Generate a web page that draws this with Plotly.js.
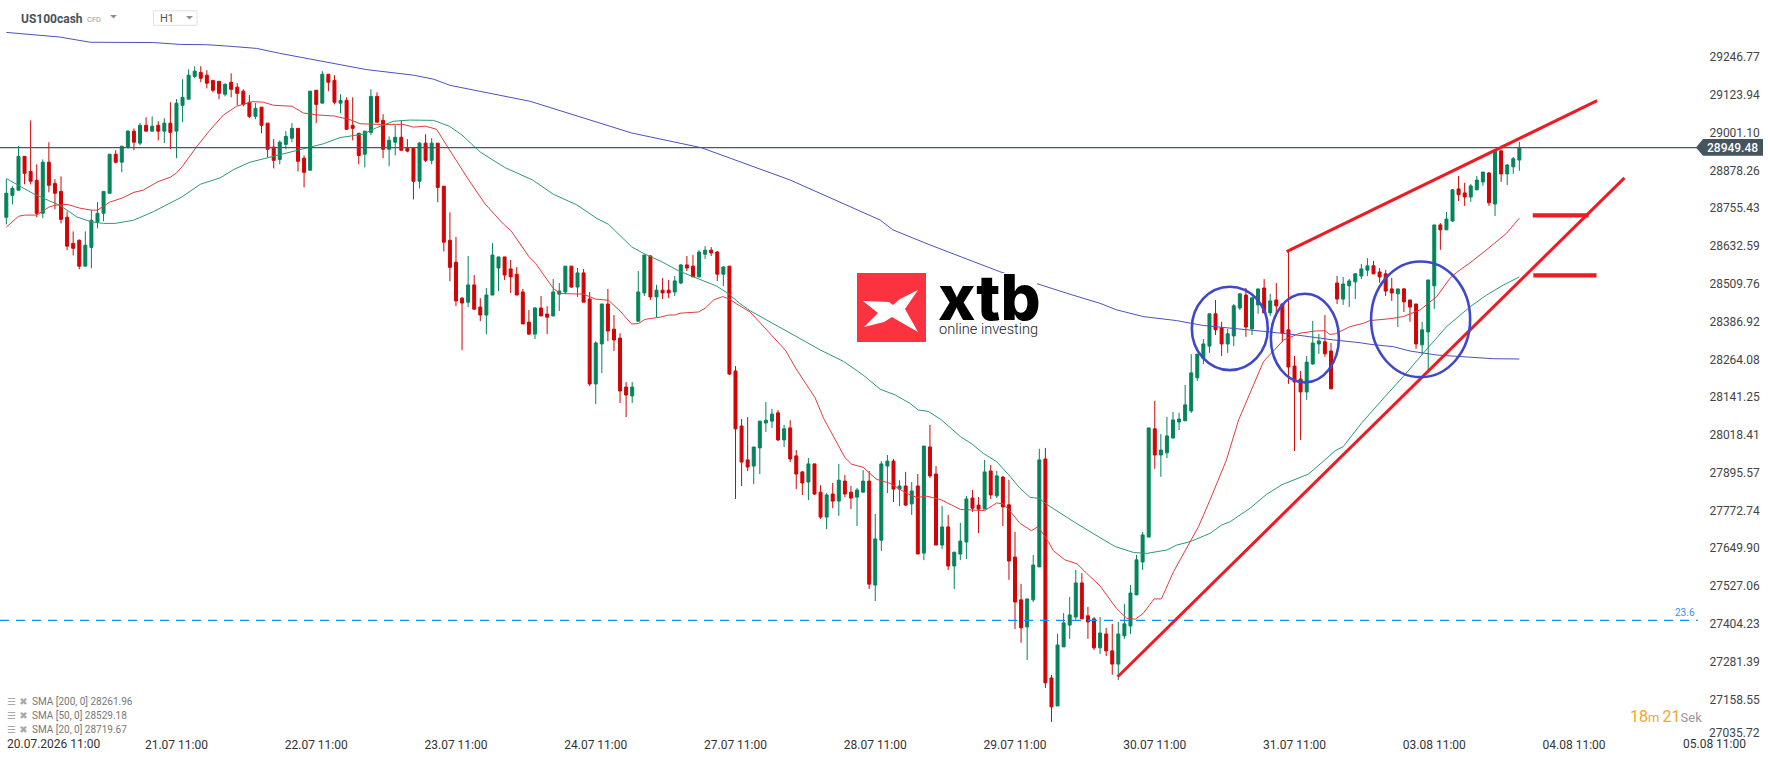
<!DOCTYPE html>
<html>
<head>
<meta charset="utf-8">
<script src="https://cdn.plot.ly/plotly-3.0.1.min.js"></script>
<style>html,body{margin:0;padding:0;background:#fff;overflow:hidden}</style>
</head>
<body>
<div id="chart"></div>
<script>
let opens = [
28723,28794,28811,28921,28872,28843,28736,28902,28833,28807,
28723,28638,28648,28564,28625,28707,28736,28801,28928,28902,
28949,29003,28964,29022,29003,29022,29003,29029,29003,29087,
29107,29181,29194,29185,29168,29165,29123,29162,29146,29133,
29097,29051,29081,29029,28951,28911,28960,28980,29012,28915,
28876,29136,29094,29188,29168,29094,29103,29022,28996,28928,
28999,29116,29038,28944,28967,28983,28947,28947,28840,28964,
28908,28964,28824,28648,28577,28460,28447,28503,28431,28405,
28470,28558,28594,28555,28538,28480,28382,28343,28428,28408,
28402,28473,28480,28564,28496,28542,28457,28181,28311,28441,
28359,28330,28171,28142,28385,28477,28597,28464,28486,28486,
28480,28509,28568,28564,28529,28603,28616,28610,28538,28564,
28223,28044,27934,27914,27973,28054,28060,28087,27999,28038,
27947,27895,27862,27921,27829,27748,27823,27800,27865,27829,
27813,27829,27865,27527,27673,27914,27930,27839,27849,27791,
27849,27631,27976,27888,27657,27716,27589,27628,27667,27810,
27787,27774,27898,27817,27878,27788,27618,27479,27391,27479,
27586,27937,27225,27134,27326,27397,27423,27534,27427,27417,
27323,27368,27313,27270,27362,27394,27495,27602,27683,28035,
27950,27957,28005,28057,28061,28093,28201,28265,28304,28409,
28363,28311,28337,28428,28470,28360,28438,28493,28412,28454,
28441,28357,28239,28197,28155,28246,28311,28318,28288,28509,
28457,28500,28513,28532,28551,28565,28545,28539,28490,28474,
28490,28454,28441,28308,28350,28500,28698,28682,28711,28815,
28802,28789,28812,28838,28867,28766,28939,28864,28887,28909];
let highs = [
28847,28824,28954,28921,29038,28895,28911,28967,28847,28856,
28742,28677,28651,28677,28746,28772,28807,28928,28941,28954,
29006,29012,29029,29048,29051,29035,29045,29097,29107,29172,
29204,29214,29214,29201,29168,29165,29159,29191,29159,29139,
29120,29094,29081,29029,28977,28973,29003,29029,29012,28924,
29133,29136,29198,29188,29185,29123,29113,29113,28996,29003,
29139,29129,29058,28986,29022,29038,28977,28947,28967,28993,
28980,28964,28824,28739,28659,28464,28597,28535,28460,28493,
28639,28594,28594,28584,28561,28490,28421,28431,28467,28434,
28522,28509,28564,28564,28558,28555,28480,28320,28441,28490,
28405,28346,28187,28187,28548,28600,28600,28503,28525,28519,
28532,28571,28597,28600,28616,28629,28626,28613,28564,28564,
28239,28067,28073,27976,28060,28122,28100,28096,28048,28063,
27966,27898,27940,27921,27852,27826,27859,27921,27885,27849,
27843,27901,27898,27758,27930,27950,27937,27868,27895,27862,
27888,27979,28048,27914,27784,27755,27634,27729,27817,27836,
27813,27934,27917,27898,27882,27869,27700,27531,27482,27625,
27970,27973,27235,27368,27436,27488,27576,27566,27456,27423,
27423,27388,27401,27407,27466,27527,27625,27700,28038,28126,
28018,28074,28090,28087,28178,28278,28278,28327,28409,28454,
28383,28360,28441,28474,28493,28461,28490,28522,28474,28509,
28441,28611,28272,28223,28272,28386,28344,28405,28314,28532,
28529,28522,28542,28571,28590,28581,28558,28552,28526,28490,
28493,28454,28441,28383,28519,28698,28704,28740,28815,28857,
28835,28831,28857,28870,28870,28939,28939,28896,28919,28968];
let lows = [
28700,28765,28811,28830,28830,28723,28720,28804,28749,28703,
28616,28599,28554,28564,28557,28687,28710,28801,28898,28869,
28949,28941,28957,29003,29003,28973,28964,28944,28915,29032,
29107,29175,29162,29142,29129,29107,29116,29113,29087,29084,
29045,29042,28996,28918,28882,28895,28944,28967,28872,28820,
28876,29029,29094,29133,29090,29061,29009,28973,28895,28885,
28990,29032,28915,28889,28924,28938,28934,28781,28817,28902,
28895,28772,28612,28515,28434,28291,28431,28424,28385,28343,
28470,28483,28519,28477,28470,28376,28340,28327,28402,28343,
28402,28418,28473,28493,28464,28447,28174,28116,28216,28320,
28288,28119,28073,28119,28385,28467,28454,28398,28457,28460,
28467,28506,28548,28529,28529,28587,28597,28516,28499,28210,
27807,27849,27898,27855,27888,28025,28038,27995,27976,27927,
27839,27820,27803,27820,27742,27709,27777,27752,27813,27774,
27719,27829,27514,27475,27638,27826,27797,27784,27784,27755,
27628,27608,27875,27657,27644,27576,27514,27608,27612,27765,
27696,27774,27807,27810,27719,27544,27384,27339,27283,27472,
27586,27192,27082,27134,27326,27352,27414,27417,27352,27316,
27303,27296,27235,27218,27352,27368,27495,27576,27683,27905,
27879,27940,28005,28031,28061,28087,28191,28246,28282,28340,
28272,28282,28304,28421,28334,28340,28409,28412,28402,28405,
28318,28181,27963,27999,28129,28243,28279,28269,28165,28441,
28438,28431,28457,28522,28532,28539,28510,28467,28451,28366,
28415,28383,28295,28275,28226,28425,28617,28682,28708,28776,
28760,28773,28812,28825,28760,28727,28838,28828,28864,28874];
let closes = [
28801,28817,28921,28866,28840,28736,28902,28827,28801,28716,
28629,28622,28564,28632,28713,28736,28807,28928,28902,28954,
29003,28967,29022,29003,29019,29003,29029,28999,29094,29113,
29185,29198,29175,29159,29136,29126,29155,29139,29126,29090,
29051,29077,29022,28944,28908,28967,28986,29012,28905,28869,
29133,29090,29188,29162,29097,29103,29009,29012,28924,29003,
29116,29032,28944,28973,28983,28941,28938,28840,28964,28908,
28964,28820,28642,28560,28451,28444,28503,28424,28405,28470,
28600,28594,28535,28529,28470,28376,28343,28428,28402,28398,
28480,28483,28564,28496,28542,28447,28181,28314,28441,28353,
28324,28158,28145,28171,28480,28600,28464,28486,28477,28477,
28516,28568,28558,28529,28610,28616,28607,28538,28561,28213,
28035,27927,27911,27976,28060,28063,28083,27999,28035,27937,
27888,27859,27921,27823,27748,27820,27800,27868,27823,27810,
27836,27865,27530,27677,27921,27930,27839,27849,27787,27833,
27628,27979,27882,27657,27716,27589,27634,27670,27807,27777,
27774,27895,27820,27882,27781,27605,27472,27388,27482,27592,
27934,27209,27131,27332,27404,27430,27534,27417,27407,27323,
27371,27313,27270,27368,27401,27501,27609,27690,28038,27950,
27966,28012,28064,28067,28113,28217,28278,28311,28409,28357,
28311,28344,28435,28474,28366,28461,28490,28412,28451,28435,
28347,28236,28187,28155,28252,28314,28321,28279,28165,28457,
28506,28516,28539,28555,28565,28539,28529,28483,28477,28490,
28448,28431,28311,28357,28519,28698,28682,28717,28812,28796,
28789,28825,28844,28870,28770,28939,28864,28893,28913,28949];

// moving averages, read at the bends only
let sma20X = [0,1.2,2,3,5,7,8,10,12,14,15,17,19,21,22.5,25,27,28,29,31.3,33.5,35.7,37.9,40.6,42.3,44,47,48.9,51,54,56.6,58.2,61,65.3,67,69,70.8,72.9,76.1,78.8,81.8,83.1,86,87.1,90,91.1,93.9,95,96.9,99.1,101,102.9,104,105.1,107.6,109,110,110.9,113.9,115,116.4,117.9,119.1,120.2,122.4,128.2,130.1,133.1,134.5,138,139.1,141,143.2,145.4,148.2,149.8,151.5,153.9,157,161,163,164.1,165.5,166.8,168.7,169.8,171.5,172.3,174.2,176.2,177.8,180,182.7,184.4,185.8,187.1,188.9,190.1,192.1,196.2,198.1,200.8,202.8,204.2,206.9,210.2,212.9,215.4,217,217.8,218.7,221.1,223.3,224.4,227.7,229.9,232.7,235.4,237.6,238.7,240.9,243.6,246.9,249];
let sma20Y = [28691,28711,28726,28730,28730,28756,28762,28765,28753,28746,28746,28772,28785,28804,28811,28839,28853,28867,28889,28952,29006,29055,29084,29099,29097,29087,29084,29062,29056,29052,29040,29027,29025,29025,29016,29019,29009,28943,28844,28766,28701,28678,28595,28573,28492,28475,28473,28473,28457,28453,28418,28376,28377,28391,28398,28405,28405,28411,28415,28427,28454,28465,28456,28441,28415,28291,28226,28136,28069,27942,27920,27910,27871,27858,27825,27812,27816,27804,27773,27769,27794,27791,27760,27728,27704,27717,27668,27639,27609,27596,27565,27524,27451,27419,27416,27435,27482,27482,27571,27717,27804,27934,28064,28129,28254,28324,28346,28353,28354,28342,28344,28367,28378,28387,28393,28400,28422,28465,28525,28544,28575,28617,28671,28720];
let sma50X = [0,2,4.4,6.9,8.8,11.6,14,16,17.9,20.9,24.2,28.9,31.9,35.2,37.4,40.1,44.5,48.3,52.2,54.9,58.7,60.9,63.7,66.4,70.3,72.9,75,78,82,86.6,90,93.9,97.2,99.1,102.9,104.8,107.9,110.6,114.2,116.9,118.8,120.7,122.4,134,137.8,141,143.8,146.3,148.7,150.1,151.7,153.9,157,158.9,160.8,163,165.2,166.8,168.5,169.9,171.8,175.9,180,182.5,185.5,187.7,191,192.6,194.8,198.1,200,201.4,204.7,207.4,209.9,212.9,214.3,217,218.7,220,223,226.4,229.9,233.2,237,240.9,243.6,246.4,249];
let sma50Y = [28849,28827,28800,28778,28762,28724,28708,28703,28703,28713,28741,28789,28830,28851,28878,28902,28924,28943,28962,28982,28993,29014,29035,29039,29038,29019,28990,28935,28885,28844,28798,28763,28719,28700,28627,28606,28578,28549,28519,28499,28475,28443,28419,28291,28254,28210,28164,28145,28118,28096,28092,28064,28010,27986,27955,27928,27880,27842,27812,27809,27782,27730,27681,27652,27633,27630,27641,27657,27668,27695,27722,27733,27777,27822,27853,27876,27888,27934,27964,27977,28053,28129,28205,28281,28367,28432,28470,28503,28529];
let sma200X = [0,4.4,8.8,13.8,24.2,28.6,33,36.8,41.2,45,51.1,59.3,67,70.3,73,86.2,102.9,114.4,129,143.8,145.9,152,163.5,169.6,174.5,180,182.7,187.1,192.6,197,202,207.4,212.4,218.4,222.8,224.4,228.3,231,235.4,240.9,244.7,249];
let sma200Y = [29324,29316,29309,29292,29291,29285,29284,29279,29272,29256,29233,29203,29185,29172,29152,29100,28997,28949,28844,28714,28682,28633,28546,28506,28476,28443,28422,28400,28387,28371,28362,28351,28340,28324,28315,28310,28302,28288,28275,28268,28263,28262];

let priceTicks = [29246.77,29123.94,29001.10,28878.26,28755.43,28632.59,28509.76,28386.92,28264.08,28141.25,28018.41,27895.57,27772.74,27649.90,27527.06,27404.23,27281.39,27158.55];
let timeTicks = [28,51,74,97,120,143,166,189,212,235,258];
let timeLabels = ['21.07 11:00','22.07 11:00','23.07 11:00','24.07 11:00','27.07 11:00','28.07 11:00','29.07 11:00','30.07 11:00','31.07 11:00','03.08 11:00','04.08 11:00'];
let smaNames = ['SMA [200, 0] 28261.96','SMA [50, 0] 28529.18','SMA [20, 0] 28719.67'];

let lastPrice = 28949.48;
let fibPrice = 27412.3;
// drawn on the chart by hand: [x0, y0, x1, y1]
let trendLines = [[210.7,28611,261.8,29102],[182.9,27229,266.3,28851]];
let levelLines = [[251.2,28729,260.4,28729],[251.3,28534,261.7,28534]];
let circles = [[195.1,28226,207.6,28497],[208.1,28186,219.3,28474],[224.6,28203,240.9,28579]];

let W = 1698, H = 736;
let xRange = [-1.042, 278.4];
let yRange = [27036.2, 29429.4];
let font = 'Roboto, sans-serif';

// pixel helpers for the chrome that is not data
function px(x) { return x / W; }
function py(y) { return 1 - y / H; }
function label(x, y, text, size, color, anchor, weight, family) {
    return {xref: 'paper', yref: 'paper', x: px(x), y: py(y), text: text, showarrow: false,
        xanchor: anchor || 'left', yanchor: 'middle', borderpad: 0,
        font: {family: family || font, size: size, color: color, weight: weight || 400}};
}
function poly(points, fill) {
    let d = points.map((p, i) => (i ? 'L' : 'M') + px(p[0]) + ',' + py(p[1])).join(' ') + ' Z';
    return {type: 'path', xref: 'paper', yref: 'paper', path: d, fillcolor: fill, line: {width: 0}, layer: 'above'};
}

let idx = opens.map((v, i) => i);
let candles = {
    type: 'candlestick', x: idx, open: opens, high: highs, low: lows, close: closes,
    increasing: {line: {color: '#04845a', width: 1}, fillcolor: '#04845a'},
    decreasing: {line: {color: '#d00505', width: 1}, fillcolor: '#d00505'},
    whiskerwidth: 0, hoverinfo: 'skip'
};
function sma(x, y, color) {
    return {type: 'scatter', mode: 'lines', x: x, y: y, line: {color: color, width: 1}, hoverinfo: 'skip'};
}

let shapes = [];
shapes.push({type: 'line', xref: 'paper', x0: 0, x1: 1, y0: lastPrice, y1: lastPrice, line: {color: '#4a5862', width: 1.3}, layer: 'above'});
shapes.push({type: 'line', xref: 'paper', x0: 0, x1: 1, y0: fibPrice, y1: fibPrice, line: {color: '#0d8fff', width: 1.2, dash: '9px,7px'}, layer: 'above'});
trendLines.forEach(l => shapes.push({type: 'line', x0: l[0], y0: l[1], x1: l[2], y1: l[3], line: {color: '#ed1c24', width: 3}, layer: 'above'}));
levelLines.forEach(l => shapes.push({type: 'line', x0: l[0], y0: l[1], x1: l[2], y1: l[3], line: {color: '#ed1c24', width: 4.2}, layer: 'above'}));
circles.forEach(c => shapes.push({type: 'circle', x0: c[0], y0: c[1], x1: c[2], y1: c[3], line: {color: '#3f48cc', width: 2.6}, layer: 'above'}));

// logo block
shapes.push(poly([[857,273],[1037,273],[1037,342],[857,342]], '#ffffff'));
shapes.push(poly([[857,273],[926,273],[926,342],[857,342]], '#fb3341'));
shapes.push(poly([[863,301],[889,302],[893,305],[900,299],[918,290],[905,309],[918,332],[897,320],[892,317],[884,322],[864,327],[878,313]], '#ffffff'));
// price tag
shapes.push(poly([[1696,147.6],[1703,139],[1763,139],[1763,155.7],[1703,155.7]], '#44555f'));
// header widgets
shapes.push(poly([[110,15],[117,15],[113.5,18.5]], '#8f8f8f'));
shapes.push({type: 'rect', xref: 'paper', yref: 'paper', x0: px(153.5), x1: px(197), y0: py(10.8), y1: py(25.3), line: {color: '#e2e2e2', width: 1}, fillcolor: '#ffffff', layer: 'above'});
shapes.push(poly([[186,16],[193,16],[189.5,19.5]], '#8f8f8f'));

let annotations = [
    label(20, 18.7, 'US100cash', 12, '#47525a', 'left', 700),
    label(86, 19.5, 'CFD', 7.5, '#999999'),
    label(159, 19, 'H1', 11, '#555555'),
    label(937, 297, 'xtb', 63, '#000000', 'left', 800, 'Inter, sans-serif'),
    label(938, 329, 'online investing', 14.6, '#222222', 'left', 300),
    label(1733, 147.6, '28949.48', 12, '#ffffff', 'center', 500),
    label(1696, 612, '23.6', 10, '#2b9bf0', 'right'),
    label(1708, 733, '27035.72', 12, '#444444'),
    label(1703, 716, '<span style="color:#f5a623;font-size:16px">18</span><span style="color:#f5a623;font-size:13px">m </span><span style="color:#f5a623;font-size:16px">21</span><span style="color:#999999;font-size:13px">Sek</span>', 16, '#f5a623', 'right'),
    label(6, 744, '20.07.2026 11:00', 12, '#333333'),
    label(1714, 744, '05.08 11:00', 12, '#333333', 'center')
];
smaNames.forEach((t, i) => {
    let y = [701.7, 715.7, 729.3][i];
    annotations.push(label(6, y, '☰ ✖', 10, '#a9a9a9', 'left', 400, 'DejaVu Sans'));
    annotations.push(label(31, y, t, 10, '#777777'));
});

let layout = {
    width: 1768, height: 761,
    margin: {l: 0, r: 70, t: 0, b: 25, pad: 0},
    paper_bgcolor: '#ffffff', plot_bgcolor: '#ffffff',
    showlegend: false, dragmode: false, boxgap: 0.3,
    xaxis: {
        range: xRange, type: 'linear', showgrid: false, zeroline: false, showline: false,
        tickmode: 'array', tickvals: timeTicks, ticktext: timeLabels, ticks: '',
        tickfont: {family: font, size: 12, color: '#333333'}, rangeslider: {visible: false}
    },
    yaxis: {
        range: yRange, side: 'right', showgrid: false, zeroline: false, showline: false,
        tickmode: 'array', tickvals: priceTicks, ticktext: priceTicks.map(v => v.toFixed(2)),
        ticks: 'outside', ticklen: 8, tickcolor: 'rgba(0,0,0,0)', ticklabelshift: 1,
        tickfont: {family: font, size: 12, color: '#444444'}
    },
    shapes: shapes,
    annotations: annotations
};

Plotly.newPlot('chart', [candles, sma(sma200X, sma200Y, '#4b52bd'), sma(sma50X, sma50Y, '#2c9a76'), sma(sma20X, sma20Y, '#e03c3c')], layout, {displayModeBar: false, staticPlot: true});
</script>
</body>
</html>
